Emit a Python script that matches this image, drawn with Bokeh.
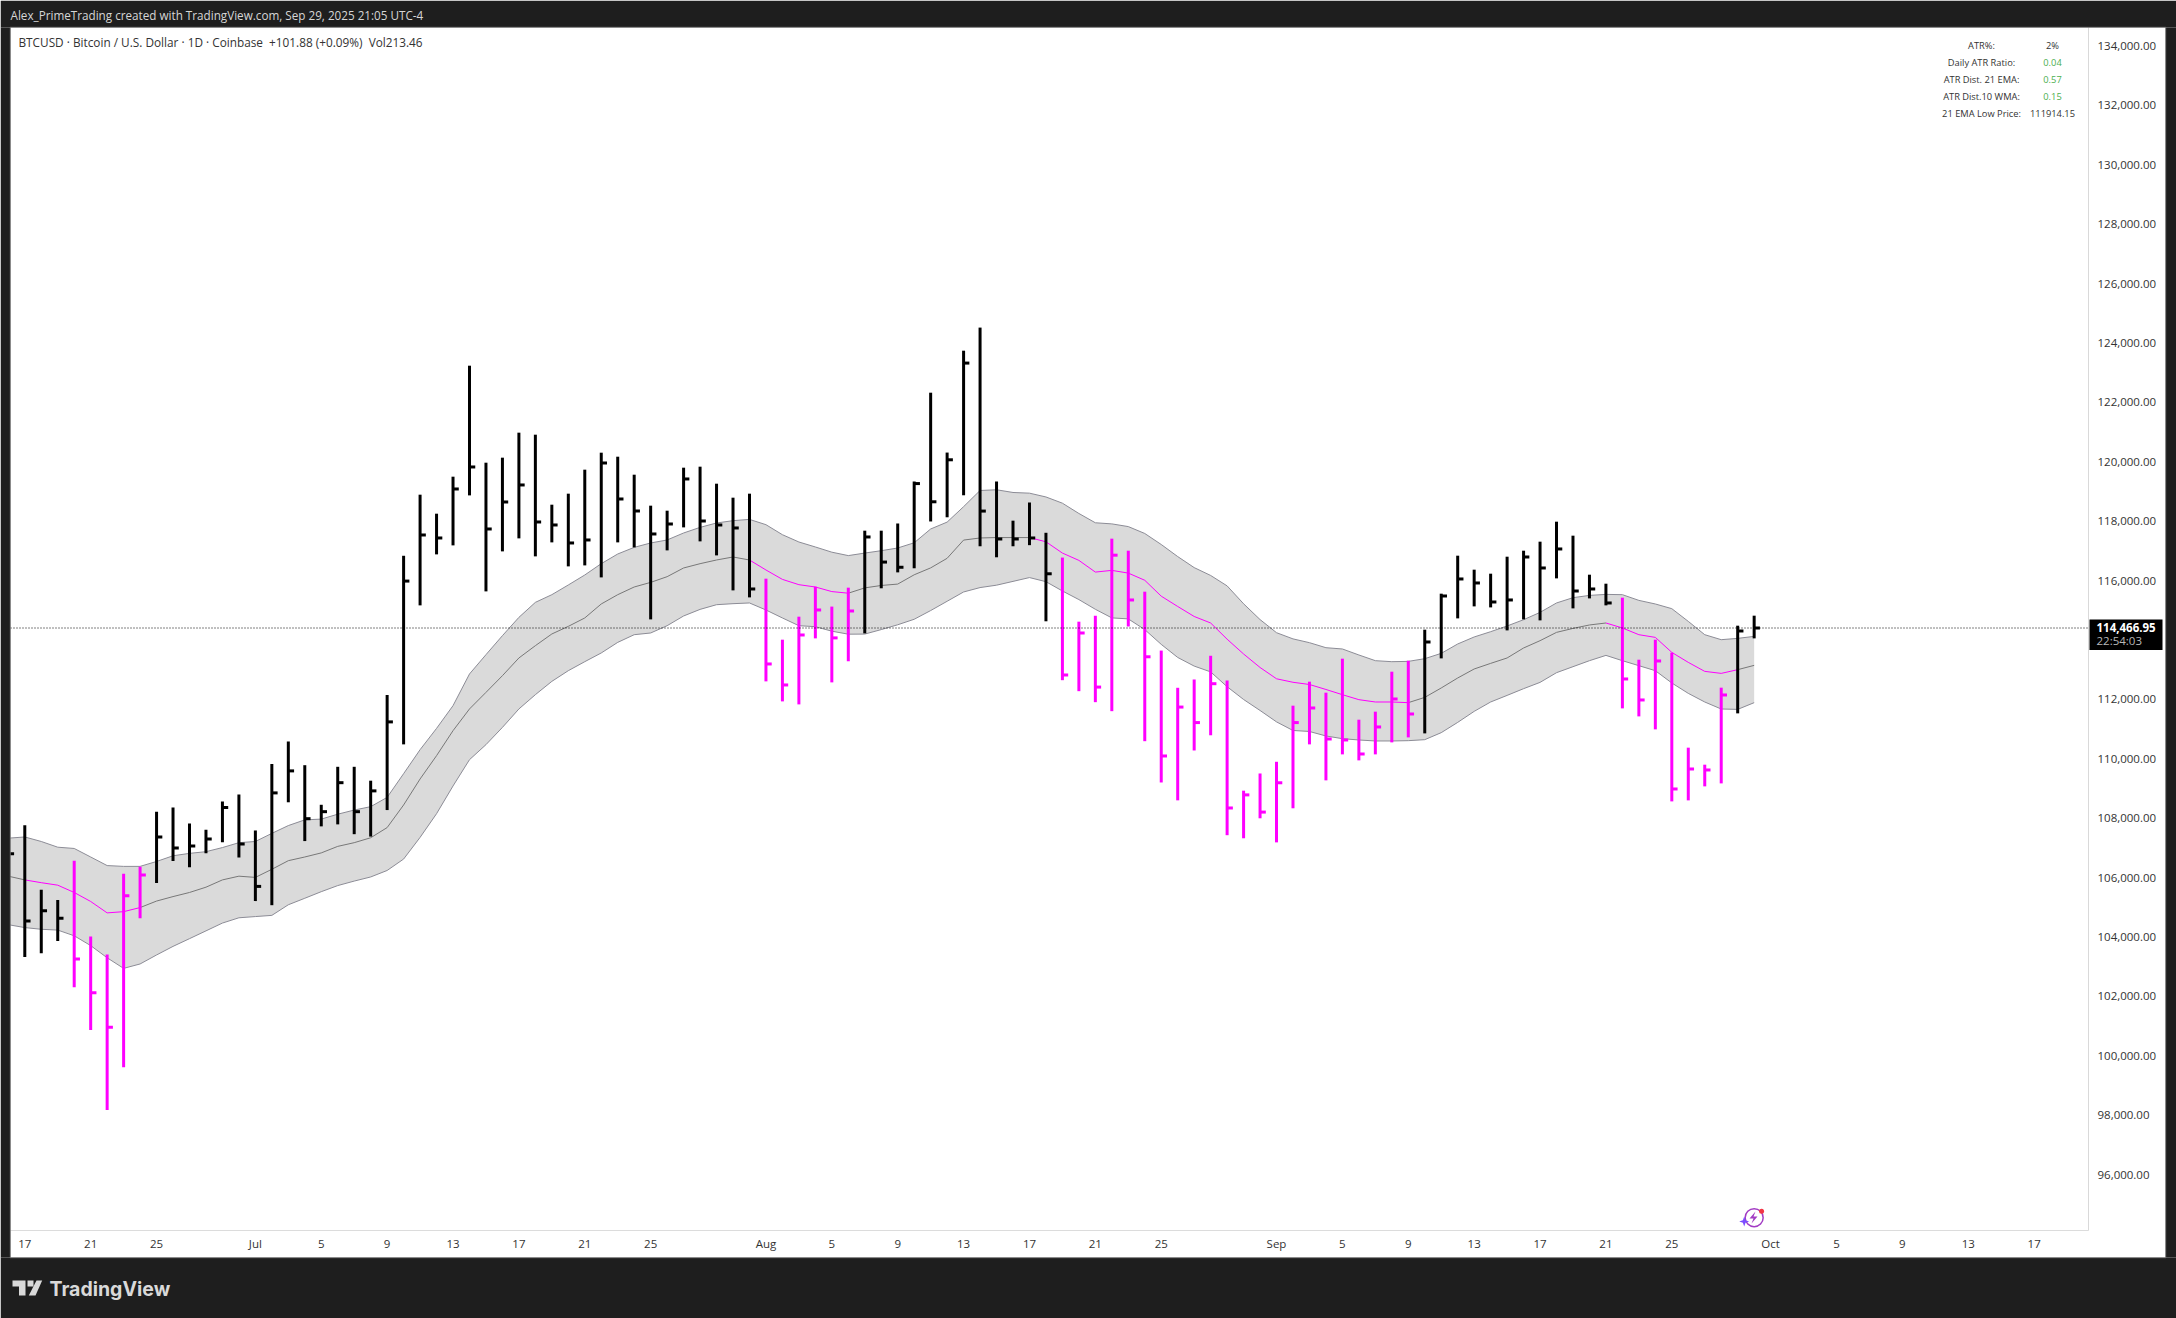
from bokeh.plotting import figure
from bokeh.layouts import column
from bokeh.embed import file_html
from bokeh.resources import INLINE
from bokeh.models import (BoxAnnotation, ColumnDataSource, FixedTicker, Label, LinearAxis, NumeralTickFormatter,
                          PolyAnnotation, Range1d, Span)

BG = "#1e1e1e"
UI_FONT = "Open Sans"

# days counted from 17 June 2025 (first entry is 16 June)
DAYS = list(range(-1, 106))

HIGH = [108950,107828,105656,105313,106633,104077,103471,106195,106427,108283,108421,107882,107677,108626,108858,
        107650,109889,110646,109848,108515,109794,109794,109326,112212,116899,118956,118316,119562,123299,120033,
        120202,121044,120976,118619,118990,119798,120370,120235,119629,118586,118417,119865,119899,119326,118855,
        118990,116128,114074,114848,115858,115188,115825,117744,117744,117986,119400,122390,120374,123804,124582,
        119400,118081,118693,117673,116838,114680,114879,117475,117070,115690,113707,112454,112734,113532,112700,
        108990,109569,109963,111852,112660,112289,113434,111380,111650,112996,113367,114411,115623,116902,116431,
        116296,116868,117070,117374,118047,117576,116262,115959,115488,113400,114074,113636,110438,109865,112458,
        114545,114882]
LOW = [104620,103390,103512,103926,102373,100929,98235,99680,104693,105878,106619,106414,106879,107252,106744,
       105273,105134,108599,107293,107788,107855,107525,107444,108337,110549,115229,116946,117249,118932,115700,
       117047,117485,116879,117350,116542,116575,116171,117350,117182,114757,117081,117855,117384,116912,115734,
       115498,112670,111996,111895,114118,112636,113347,114286,115804,116340,116478,118054,118195,118936,117219,
       116848,117219,117256,114693,112710,112340,111970,111667,114518,110656,109266,108664,110343,110855,107491,
       107387,108060,107249,108397,110549,109337,110212,110010,110212,110616,110784,110919,113444,114791,115195,
       115161,114387,114757,114724,116138,115128,115464,115229,111761,111491,111054,108629,108663,109135,109235,
       111593,114118]
CLOSE = [106868,104599,104943,104693,103319,102182,101027,105451,106151,107431,107060,107128,107360,108421,107195,
         105767,108915,109656,108047,108283,109259,108283,108983,111306,116047,117599,117498,119148,119889,117801,
         118710,119283,118037,117936,117330,117431,120023,118811,118407,117633,117969,119485,118070,117936,117835,
         115781,113256,112549,114232,115074,114134,115040,117532,116687,116512,119330,118717,120131,123387,118404,
         117464,117464,117498,116293,112885,114299,112478,116919,115411,113498,110158,111805,111283,112592,108407,
         108848,108269,109256,111283,111774,110730,110697,110225,111135,112077,111572,113996,115545,116118,115983,
         115343,115411,116858,116488,117128,115713,115781,115310,112751,112044,113357,109047,109720,109687,112212,
         114367,114467]

# k = black bar, m = magenta bar, one letter per day
BAR_STATE = "kkkk" + "mmmmm" + "k" * 37 + "m" * 6 + "k" * 12 + "m" * 22 + "k" * 12 + "m" * 7 + "kk"
# per segment of the middle line, from one day to the next
MID_STATE = "g" + "m" * 7 + "g" * 37 + "m" * 6 + "g" * 11 + "m" * 23 + "g" * 12 + "m" * 8 + "g"

BAND_UPPER = [107391,107431,107279,107087,107044,106757,106468,106441,106441,106606,106798,106879,106936,107074,107239,
              107279,107552,107815,108007,108033,108198,108337,108451,108764,109562,110370,111087,111852,112919,113569,
              114209,114825,115330,115589,115916,116252,116633,116959,117182,117330,117431,117666,117855,118003,118081,
              118124,117946,117609,117363,117195,117020,116905,116990,117070,117161,117336,117801,118033,118552,119097,
              119121,119030,119007,118879,118670,118323,118010,117973,117882,117650,117279,116872,116501,116236,115885,
              115283,114751,114309,114101,113973,113804,113761,113559,113367,113333,113343,113434,113613,113929,114165,
              114343,114535,114747,114993,115310,115488,115565,115599,115589,115397,115276,115118,114690,114242,114074,
              114118,114185]
BAND_MID = [106111,105986,105892,105808,105562,105259,104875,104916,105054,105273,105424,105562,105740,105986,106111,
            106070,106343,106633,106757,106895,107114,107239,107404,107747,108508,109384,110168,111010,111741,112299,
            112862,113458,113872,114266,114522,114805,115276,115589,115848,116003,116195,116488,116633,116757,116858,
            116757,116421,116104,115926,115848,115693,115639,115818,115899,115946,116259,116491,116814,117427,117498,
            117512,117512,117512,117370,116990,116744,116350,116407,116316,116074,115539,115192,114855,114636,114091,
            113592,113138,112757,112640,112565,112397,112222,112054,111976,111976,111953,112131,112448,112784,113087,
            113276,113458,113794,114040,114320,114454,114569,114636,114468,114242,114151,113646,113310,113007,112939,
            113064,113209]
BAND_LOWER = [104478,104380,104323,104296,104104,103774,103363,103007,103155,103458,103747,104007,104269,104532,104710,
              104751,104791,105148,105367,105589,105794,105946,106084,106303,106687,107417,108215,109148,110033,110539,
              111121,111741,112222,112670,113030,113333,113626,113983,114242,114299,114545,114872,115094,115252,115286,
              115310,115074,114805,114545,114512,114360,114259,114262,114414,114576,114761,115054,115367,115680,115828,
              115909,116037,116165,116027,115714,115424,115097,114808,114774,114414,113916,113475,113185,112990,112491,
              112060,111690,111306,111017,110983,110832,110741,110697,110663,110663,110674,110707,110943,111289,111660,
              111976,112198,112424,112636,112963,113165,113367,113545,113367,113199,113030,112616,112266,111976,111740,
              111727,111953]

LAST_PRICE = 114466.95
# 114,000.00 sits behind the last-price tag in the reference and is not shown
PRICE_TICKS = [t for t in range(96000, 136000, 2000) if t != 114000]
TIME_TICKS = [0, 4, 8, 14, 18, 22, 26, 30, 34, 38, 45, 49, 53, 57, 61, 65, 69, 76, 80, 84, 88, 92, 96, 100, 106, 110, 114, 118, 122]
TIME_LABELS = ["17", "21", "25", "Jul", "5", "9", "13", "17", "21", "25", "Aug", "5", "9", "13", "17", "21", "25",
               "Sep", "5", "9", "13", "17", "21", "25", "Oct", "5", "9", "13", "17"]
INFO_NAMES = ["ATR%:", "Daily ATR Ratio:", "ATR Dist. 21 EMA:", "ATR Dist.10 WMA:", "21 EMA Low Price:"]
INFO_VALUES = ["2%", "0.04", "0.57", "0.15", "111914.15"]
INFO_COLORS = ["#333333", "#4caf50", "#4caf50", "#4caf50", "#333333"]

TITLE = "Alex_PrimeTrading created with TradingView.com, Sep 29, 2025 21:05 UTC-4"
LEGEND = "BTCUSD \u00b7 Bitcoin / U.S. Dollar \u00b7 1D \u00b7 Coinbase\u00a0\u00a0+101.88 (+0.09%)\u00a0\u00a0Vol213.46"

W, H = 2176, 1318
Y0, Y1 = 94181, 134686
# labels of the price axis sit a little above their exact level in the reference
LABEL_SHIFT = 60
# main chart: the border is white, the dark surround is painted by the overlay figure
p = figure(width=W, height=H, output_backend="svg", toolbar_location=None, y_axis_location=None,
           x_range=Range1d(-0.868, 125.3), y_range=Range1d(Y0, Y1),
           min_border_left=10, min_border_right=88, min_border_top=27, min_border_bottom=88,
           border_fill_color="white", background_fill_color="white", frame_align=False)
p.outline_line_color = None
p.grid.visible = False
p.extra_y_ranges = {"labels": Range1d(Y0 - LABEL_SHIFT, Y1 - LABEL_SHIFT)}

ya = LinearAxis(y_range_name="labels")
ya.ticker = FixedTicker(ticks=PRICE_TICKS)
ya.formatter = NumeralTickFormatter(format="0,0.00")
ya.major_tick_line_color = None
ya.minor_tick_line_color = None
ya.axis_line_color = "#d9d9d9"
ya.major_label_standoff = 3
ya.major_label_text_font = UI_FONT
ya.major_label_text_font_size = "11.5px"
ya.major_label_text_color = "#333333"
p.add_layout(ya, "right")

xa = p.xaxis[0]
xa.ticker = FixedTicker(ticks=TIME_TICKS)
xa.major_label_overrides = dict(zip(TIME_TICKS, TIME_LABELS))
xa.major_tick_line_color = None
xa.minor_tick_line_color = None
xa.axis_line_color = "#dcdcdc"
xa.major_label_standoff = -1
xa.major_label_text_font = UI_FONT
xa.major_label_text_font_size = "11.5px"
xa.major_label_text_color = "#333333"

# band
p.varea(x=DAYS, y1=BAND_LOWER, y2=BAND_UPPER, fill_color="#dadada")
p.line(x=DAYS, y=BAND_UPPER, line_color="#8c8c96", line_width=1)
p.line(x=DAYS, y=BAND_LOWER, line_color="#8c8c96", line_width=1)
mid_src = ColumnDataSource(dict(
    x0=DAYS[:-1], x1=DAYS[1:], y0=BAND_MID[:-1], y1=BAND_MID[1:],
    c=["#ff00ff" if s == "m" else "#787878" for s in MID_STATE]))
p.segment(x0="x0", y0="y0", x1="x1", y1="y1", line_color="c", line_width=1, source=mid_src)

# last price line
p.add_layout(Span(location=LAST_PRICE, dimension="width", line_color="#000000", line_width=1, line_dash="1 2"))

# bars: high-low stem and a close tick to the right
colors = ["#000000" if s == "k" else "#ff00ff" for s in BAR_STATE]
TICK_DAYS = 0.35
bar_src = ColumnDataSource(dict(x=DAYS, x2=[d + TICK_DAYS for d in DAYS], h=HIGH, l=LOW, c=CLOSE, col=colors))
p.segment(x0="x", y0="l", x1="x", y1="h", line_color="col", line_width=3, source=bar_src)
p.segment(x0="x", y0="c", x1="x2", y1="c", line_color="col", line_width=3, source=bar_src)

# small notification icon over the last day
ICON_DAY, ICON_PRICE = 105, 94613
p.scatter(x=[ICON_DAY], y=[ICON_PRICE], marker="circle", size=18, fill_color=None, line_color="#a23cc4", line_width=1.5)
p.scatter(x=[ICON_DAY + 0.45], y=[ICON_PRICE + 220], marker="circle", size=5, fill_color="#f23645", line_color=None)

# transparent overlay the size of the page: surround, header, tag and logo
o = figure(width=W, height=H, output_backend="svg", toolbar_location=None, x_axis_type=None, y_axis_type=None,
           x_range=Range1d(0, W), y_range=Range1d(0, H), min_border=0, min_border_left=0, min_border_right=0,
           min_border_top=0, min_border_bottom=0, border_fill_alpha=0, background_fill_alpha=0,
           margin=(-H, 0, 0, 0), frame_align=False)
o.outline_line_color = None
o.grid.visible = False


def box(x0, y0, x1, y1, color, line=None, alpha=1):
    o.add_layout(BoxAnnotation(left=x0, right=x1, top=y0, bottom=y1, left_units="canvas", right_units="canvas",
                               top_units="canvas", bottom_units="canvas", fill_color=color, fill_alpha=alpha,
                               line_color=line, line_width=1, level="underlay"))


def label(px, py, text, size, color, align="left", font=UI_FONT, style="normal"):
    o.add_layout(Label(x=px, y=py, x_units="canvas", y_units="canvas", text=text, text_font=font,
                       text_font_size=size, text_color=color, text_align=align, text_baseline="middle",
                       text_font_style=style))


def poly(points, color):
    o.add_layout(PolyAnnotation(xs=[q[0] for q in points], ys=[q[1] for q in points], xs_units="canvas",
                                ys_units="canvas", fill_color=color, fill_alpha=1, line_color=None, level="overlay"))


box(0, 0, W, 27, BG)
box(0, 1257, W, H, BG)
box(0, 27, 10, 1257, BG)
box(2165, 27, W, 1257, BG)
box(9.5, 26.5, 2165.5, 1257.5, "#ffffff", "#808080", alpha=0)

label(10, 14, TITLE, "11.7px", "#d6d6d6")
label(18, 41, LEGEND, "11.8px", "#333333")

for i, (n, v, c) in enumerate(zip(INFO_NAMES, INFO_VALUES, INFO_COLORS)):
    y = 45 + 17 * i
    label(1981, y, n, "9.3px", "#333333", align="center")
    label(2052, y, v, "9.3px", c, align="center")

box(2089, 619, 2162, 649.5, "#000000")
label(2096, 626.5, f"{LAST_PRICE:,.2f}", "11.5px", "#ffffff", style="bold")
label(2096, 639.5, "22:54:03", "11.5px", "#b8b8b8")

# TradingView logo
poly([(12, 1280), (25, 1280), (25, 1295), (18.5, 1295), (18.5, 1286), (12, 1286)], "#d9d9d9")
poly([(36, 1280), (41.7, 1280), (35, 1295), (28.3, 1295)], "#d9d9d9")
poly([(27, 1280), (33, 1280), (33, 1286), (27, 1286)], "#d9d9d9")
label(49, 1288, "TradingView", "19.5px", "#d9d9d9", font="Inter", style="bold")

# star and bolt of the notification icon
poly([(1743.7, 1216), (1745, 1219.7), (1748.7, 1221), (1745, 1222.3), (1743.7, 1226), (1742.4, 1222.3), (1738.7, 1221),
      (1742.4, 1219.7)], "#7c4dff")
poly([(1755, 1211), (1749, 1218), (1753, 1218), (1751, 1223), (1757, 1216), (1753, 1216)], "#a23cc4")

open("out.html", "w").write(file_html(column(p, o), INLINE))
